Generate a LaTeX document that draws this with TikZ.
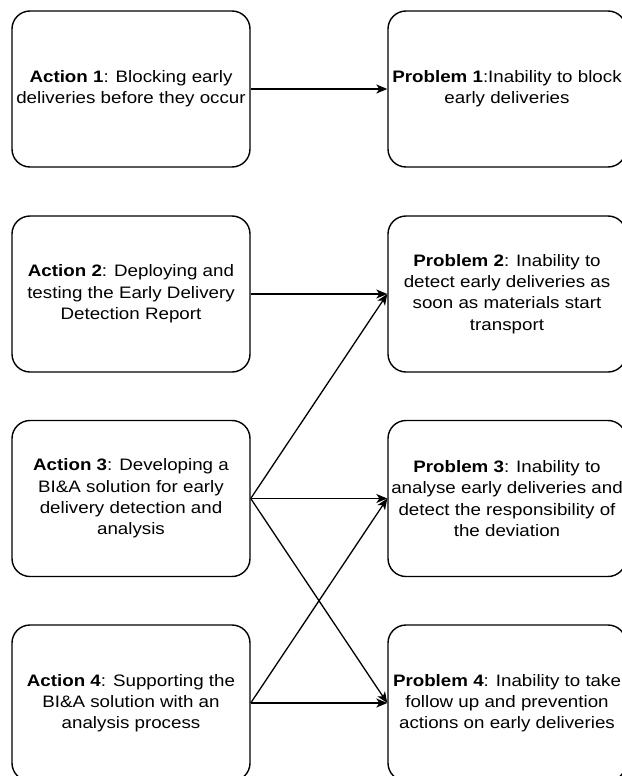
\documentclass[tikz,border=0pt]{standalone}
\usepackage{fontspec}
\setmainfont{Liberation Sans}[FakeStretch=1.13]
\usetikzlibrary{arrows.meta}
\begin{document}
\begin{tikzpicture}[x=1pt,y=-1pt,
  box/.style={draw, line width=1.4pt, rounded corners=18pt,
    minimum width=238pt, minimum height=156pt, align=center, inner sep=0pt,
    font=\fontsize{16.6}{21.3}\selectfont},
  link/.style={line width=1.3pt, -{Stealth[length=11pt,width=9pt,inset=3pt]}}]
\useasboundingbox (0,0) rectangle (621,776);

% actions (left column)
\node[box] (a1) at (131,89)    {\textbf{Action 1}: Blocking early\\deliveries before they occur};
\node[box] (a2) at (131,294)   {\textbf{Action 2}: Deploying and\\testing the Early Delivery\\Detection Report};
\node[box] (a3) at (131,498.5) {\textbf{Action 3}: Developing a\\BI\&A solution for early\\delivery detection and\\analysis};
\node[box] (a4) at (131,703)   {\textbf{Action 4}: Supporting the\\BI\&A solution with an\\analysis process};

% problems (right column)
\node[box] (p1) at (507,89)    {\textbf{Problem 1}:Inability to block\\early deliveries};
\node[box] (p2) at (507,294)   {\textbf{Problem 2}: Inability to\\detect early deliveries as\\soon as materials start\\transport};
\node[box] (p3) at (507,498.5) {\textbf{Problem 3}: Inability to\\analyse early deliveries and\\detect the responsibility of\\the deviation};
\node[box] (p4) at (507,703)   {\textbf{Problem 4}: Inability to take\\follow up and prevention\\actions on early deliveries};

% which action addresses which problem
\draw[link] (a1.east) -- (p1.west);
\draw[link] (a2.east) -- (p2.west);
\draw[link] (a3.east) -- (p2.west);
\draw[link] (a3.east) -- (p3.west);
\draw[link] (a3.east) -- (p4.west);
\draw[link] (a4.east) -- (p3.west);
\draw[link] (a4.east) -- (p4.west);
\end{tikzpicture}
\end{document}
